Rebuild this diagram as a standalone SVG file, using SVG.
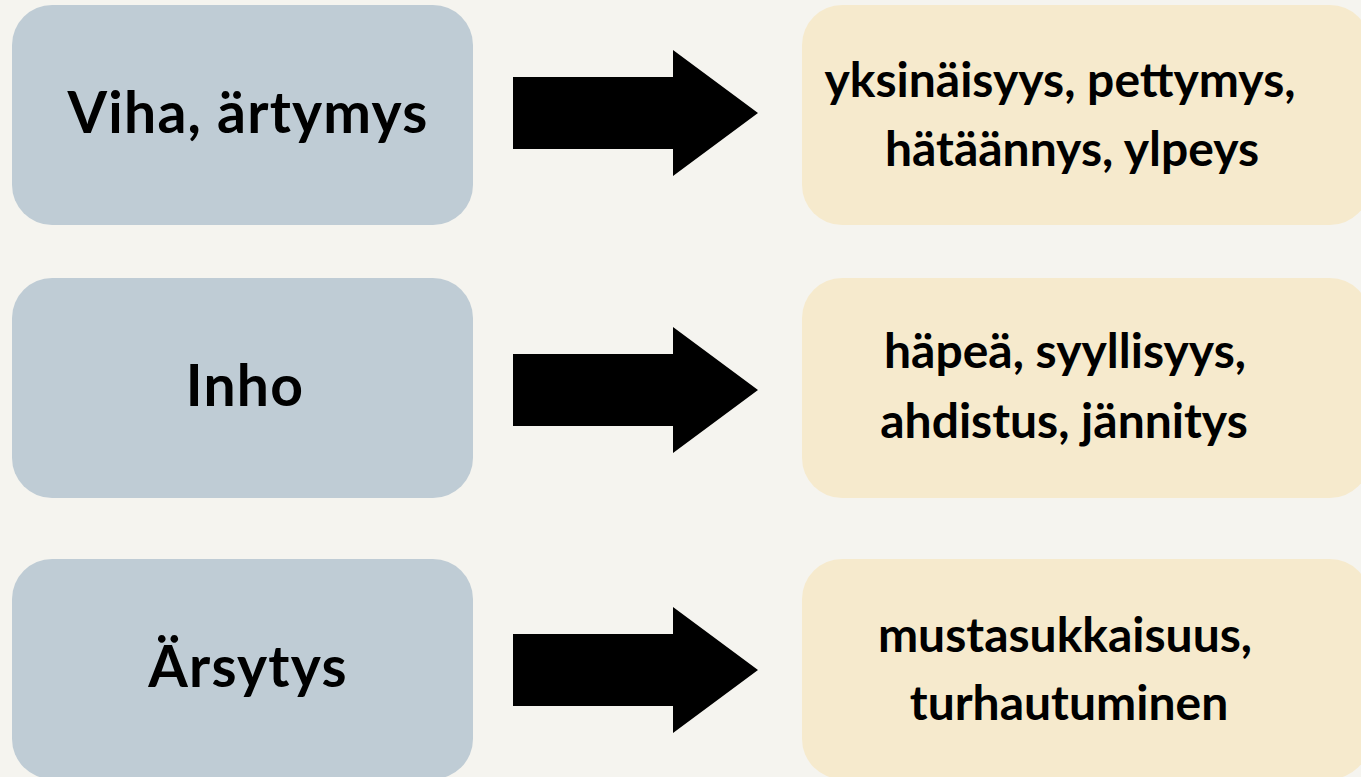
<svg xmlns="http://www.w3.org/2000/svg" width="1361" height="777" viewBox="0 0 1361 777">
<style>
.bg{fill:#f5f4ef}
.src{fill:#bfccd5}
.dst{fill:#f6eacd}
.arrow{fill:#000}
.lt{font-family:Lato,"Noto Sans",sans-serif;font-weight:700;font-size:57px;letter-spacing:1.2px;fill:#000;text-anchor:middle}
.rt{font-family:Lato,"Noto Sans",sans-serif;font-weight:700;font-size:48px;fill:#000;text-anchor:middle}
</style>
<defs>
<path id="arr" d="M513,-36 H673 V-63 L758,0 L673,63 V36 H513 Z"/>
</defs>
<rect class="bg" x="0" y="0" width="1361" height="777"/>
<g id="node-viha"><rect class="src" x="12" y="5" width="461" height="220" rx="40"/><text class="lt" x="248" y="133">Viha, ärtymys</text></g>
<g id="node-inho"><rect class="src" x="12" y="278" width="461" height="220" rx="40"/><text class="lt" x="245" y="406">Inho</text></g>
<g id="node-arsytys"><rect class="src" x="12" y="559" width="461" height="220" rx="40"/><text class="lt" x="248" y="687">Ärsytys</text></g>
<g id="node-r1"><rect class="dst" x="802" y="5" width="568" height="220" rx="40"/><text class="rt" x="1060" y="97">yksinäisyys, pettymys,</text><text class="rt" x="1072" y="166">hätäännys, ylpeys</text></g>
<g id="node-r2"><rect class="dst" x="802" y="278" width="568" height="220" rx="40"/><text class="rt" x="1065" y="368">häpeä, syyllisyys,</text><text class="rt" x="1064" y="438">ahdistus, jännitys</text></g>
<g id="node-r3"><rect class="dst" x="802" y="559" width="568" height="220" rx="40"/><text class="rt" x="1065" y="652">mustasukkaisuus,</text><text class="rt" x="1069" y="720">turhautuminen</text></g>
<g id="connectors">
<use href="#arr" class="arrow" transform="translate(0,113)"/>
<use href="#arr" class="arrow" transform="translate(0,390)"/>
<use href="#arr" class="arrow" transform="translate(0,670)"/>
</g>
</svg>
